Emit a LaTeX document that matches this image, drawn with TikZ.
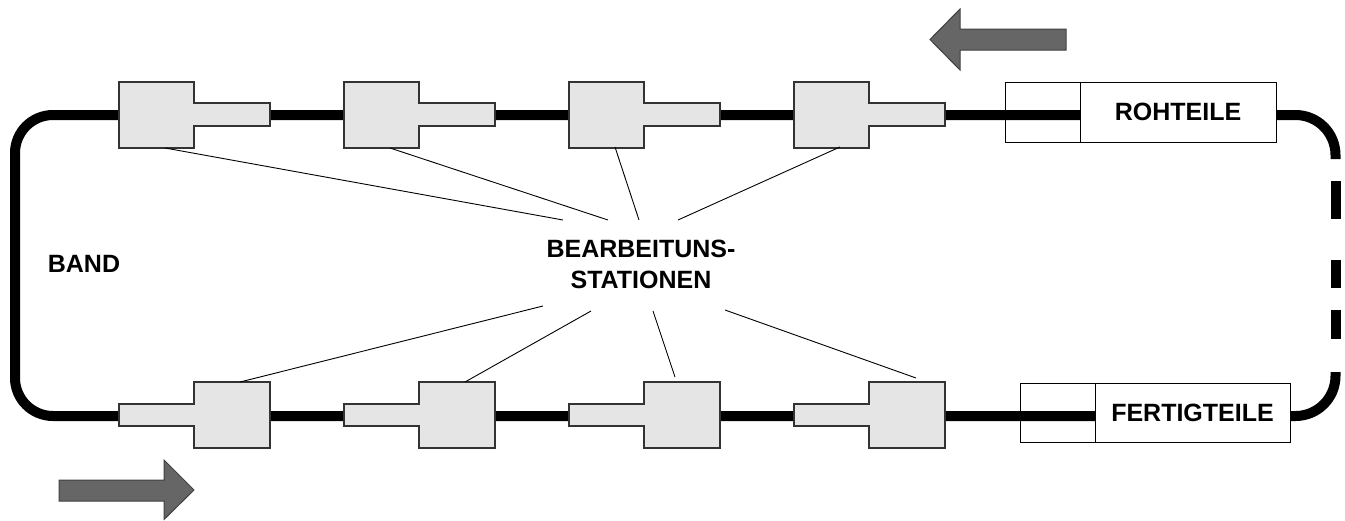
\documentclass[tikz,border=0pt]{standalone}
\usepackage{fontspec}
\setmainfont{Liberation Sans}
\begin{document}
\begin{tikzpicture}[x=1pt,y=-1pt,
  band/.style={line width=10pt,black},
  station/.style={draw=black!80,fill=black!10,line width=1.1pt},
  ray/.style={line width=0.9pt,black},
  bigarrow/.style={fill=black!60,draw=black!75,line width=1pt},
  lbl/.style={font=\bfseries\fontsize{25}{31}\selectfont,align=center,inner sep=0pt},
  partbox/.style={draw,fill=white,line width=1pt,inner sep=0pt,minimum height=60pt,font=\bfseries\fontsize{25}{31}\selectfont}]
\useasboundingbox (0,0) rectangle (1345,520);
% part boxes
\node[partbox,minimum width=75pt] (rohin) at (1042.5,112) {};
\node[partbox,minimum width=196pt] (roh) at (1178,112) {ROHTEILE};
\node[partbox,minimum width=75pt,minimum height=59pt] (ferin) at (1057.5,412.5) {};
\node[partbox,minimum width=195pt,minimum height=59pt] (fer) at (1192.5,412.5) {FERTIGTEILE};
% band
\draw[band,rounded corners=38pt] (rohin.east |- 0,115) -- (15,115) -- (15,416) -- (ferin.east |- 0,416);
\draw[band,rounded corners=40pt] (roh.east |- 0,115) -- (1335.5,115) -- (1335.5,159);
\draw[band,rounded corners=40pt] (fer.east |- 0,416) -- (1335.5,416) -- (1335.5,372);
\draw[band] (1335.5,181) -- (1335.5,219) (1335.5,260) -- (1335.5,288) (1335.5,310) -- (1335.5,339);
% stations
\foreach \x in {119,344,569,794}{
  \draw[station] (\x,82) -- ({\x+75},82) -- ({\x+75},103) -- ({\x+151},103) -- ({\x+151},126) -- ({\x+75},126) -- ({\x+75},148) -- (\x,148) -- cycle;
  \draw[station] (\x,404) -- ({\x+75},404) -- ({\x+75},382) -- ({\x+151},382) -- ({\x+151},448) -- ({\x+75},448) -- ({\x+75},426) -- (\x,426) -- cycle;
}
% label nodes
\node[lbl] (st) at (641,264) {BEARBEITUNS-\\STATIONEN};
\node[lbl] (band) at (84,264) {BAND};
% ray coordinates
\coordinate (t1) at (165,148); \coordinate (t2) at (390,148);
\coordinate (t3) at (615,147); \coordinate (t4) at (840,147);
\coordinate (b1) at (240,382); \coordinate (b2) at (465,382);
\coordinate (b3) at (675,377); \coordinate (b4) at (916,378);
\coordinate (et1) at (563,220); \coordinate (et2) at (608,220);
\coordinate (et3) at (639,220); \coordinate (et4) at (678,220);
\coordinate (eb1) at (543,306); \coordinate (eb2) at (591,311);
\coordinate (eb3) at (653,311); \coordinate (eb4) at (725,310);
\foreach \i in {1,2,3,4}{
  \draw[ray] (t\i) -- (et\i);
  \draw[ray] (b\i) -- (eb\i);
}
% arrows
\draw[bigarrow] (930,39.5) -- (960,9) -- (960,29) -- (1066,29) -- (1066,50) -- (960,50) -- (960,70) -- cycle;
\draw[bigarrow] (194,490) -- (164,460) -- (164,480) -- (59,480) -- (59,501) -- (164,501) -- (164,519.5) -- cycle;
\end{tikzpicture}
\end{document}
